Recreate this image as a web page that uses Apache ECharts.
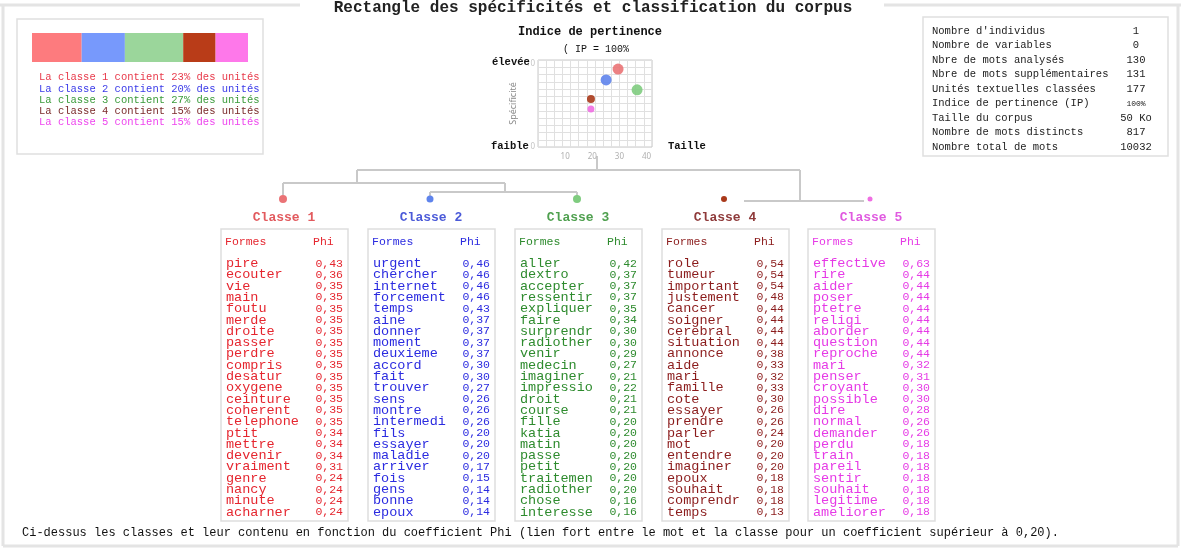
<!DOCTYPE html>
<html><head><meta charset="utf-8">
<script src="https://cdn.jsdelivr.net/npm/echarts@6/dist/echarts.min.js"></script>
<style>html,body{margin:0;padding:0;background:#fff}#c{width:1181px;height:550px}</style>
</head><body><div id="c"></div><script>
// ---------- data ----------
const classNames = ['Classe 1','Classe 2','Classe 3','Classe 4','Classe 5'];
const classShares = [23, 20, 27, 15, 15];
const scatterTaille = [29.5, 25.1, 36.5, 19.5, 19.5];
const scatterSpec = [9.4, 8.1, 6.9, 5.8, 4.6];
const xTickLabels = [10, 20, 30, 40];
const yTickLabels = [0, 10];

const words1 = ['pire','ecouter','vie','main','foutu','merde','droite','passer','perdre','compris','desatur','oxygene','ceinture','coherent','telephone','ptit','mettre','devenir','vraiment','genre','nancy','minute','acharner'];
const phi1 = ['0,43','0,36','0,35','0,35','0,35','0,35','0,35','0,35','0,35','0,35','0,35','0,35','0,35','0,35','0,35','0,34','0,34','0,34','0,31','0,24','0,24','0,24','0,24'];
const words2 = ['urgent','chercher','internet','forcement','temps','aine','donner','moment','deuxieme','accord','fait','trouver','sens','montre','intermedi','fils','essayer','maladie','arriver','fois','gens','bonne','epoux'];
const phi2 = ['0,46','0,46','0,46','0,46','0,43','0,37','0,37','0,37','0,37','0,30','0,30','0,27','0,26','0,26','0,26','0,20','0,20','0,20','0,17','0,15','0,14','0,14','0,14'];
const words3 = ['aller','dextro','accepter','ressentir','expliquer','faire','surprendr','radiother','venir','medecin','imaginer','impressio','droit','course','fille','katia','matin','passe','petit','traitemen','radiother','chose','interesse'];
const phi3 = ['0,42','0,37','0,37','0,37','0,35','0,34','0,30','0,30','0,29','0,27','0,21','0,22','0,21','0,21','0,20','0,20','0,20','0,20','0,20','0,20','0,20','0,16','0,16'];
const words4 = ['role','tumeur','important','justement','cancer','soigner','cerebral','situation','annonce','aide','mari','famille','cote','essayer','prendre','parler','mot','entendre','imaginer','epoux','souhait','comprendr','temps'];
const phi4 = ['0,54','0,54','0,54','0,48','0,44','0,44','0,44','0,44','0,38','0,33','0,32','0,33','0,30','0,26','0,26','0,24','0,20','0,20','0,20','0,18','0,18','0,18','0,13'];
const words5 = ['effective','rire','aider','poser','ptetre','religi','aborder','question','reproche','mari','penser','croyant','possible','dire','normal','demander','perdu','train','pareil','sentir','souhait','legitime','ameliorer'];
const phi5 = ['0,63','0,44','0,44','0,44','0,44','0,44','0,44','0,44','0,44','0,32','0,31','0,30','0,30','0,28','0,26','0,26','0,18','0,18','0,18','0,18','0,18','0,18','0,18'];

const statLabels = ["Nombre d'individus","Nombre de variables","Nbre de mots analysés","Nbre de mots supplémentaires","Unités textuelles classées","Indice de pertinence (IP)","Taille du corpus","Nombre de mots distincts","Nombre total de mots"];
const statValues = ['1','0','130','131','177','100%','50 Ko','817','10032'];

// ---------- styles ----------
const MONO = '"Liberation Mono","Courier New",monospace';
const barColors = ['#fd7b7e','#7799fc','#9bd69b','#b93c18','#fe78ea'];
const dotColors = ['#ea7376','#5f84ec','#7fcc7f','#a9391a','#ef6ee2'];
const dotSizes = [11, 11, 11, 8, 7];
const treeDotSizes = [8, 7, 8, 6, 5];
const textColors = ['#e5262f','#2b2be0','#2e8b2e','#8b1c1c','#e63ae6'];
const titleColors = ['#e25a5e','#4b5ad8','#4fa04f','#8f3b3b','#e05ae0'];
const legendColors = ['#e8394a','#3a3ae8','#3a9a3a','#7a2a2a','#ee44ee'];

const allWords = [words1, words2, words3, words4, words5];
const allPhi = [phi1, phi2, phi3, phi4, phi5];

const g = [];
function txt(x, y, text, o) {
  o = o || {};
  g.push({type:'text', x:x, y:y, silent:true, z:10, style:{
    text:text, fill:o.fill || '#000', fontFamily:MONO, fontSize:o.size || 11,
    fontWeight:o.weight || 'normal', align:o.align || 'left', textAlign:o.align || 'left',
    verticalAlign:'middle', textVerticalAlign:'middle'}});
}
function line(x1, y1, x2, y2, stroke, lw) {
  g.push({type:'line', silent:true, shape:{x1:x1,y1:y1,x2:x2,y2:y2}, style:{stroke:stroke, lineWidth:lw}});
}
function rect(x, y, w, h, stroke, lw) {
  g.push({type:'rect', silent:true, shape:{x:x,y:y,width:w,height:h}, style:{fill:'#fff', stroke:stroke, lineWidth:lw}, z:1});
}

// outer frame
const FR = '#e4e4e4';
line(0, 5, 300, 5, FR, 3);
line(884, 5, 1181, 5, FR, 3);
line(3, 5, 3, 546, FR, 3);
line(3, 546, 1178, 546, FR, 3);
line(1178, 5, 1178, 546, FR, 3);
txt(593, 8, 'Rectangle des spécificités et classification du corpus', {size:16, weight:'bold', align:'center', fill:'#222'});

// legend box
rect(17, 19, 246, 135, '#e0e0e0', 1.5);
classShares.forEach(function(s, i) {
  txt(39, 77.7 + i * 11.2, 'La ' + classNames[i].toLowerCase() + ' contient ' + s + '% des unités', {size:10.5, fill:legendColors[i]});
});

// stats box
rect(923, 17, 245, 139, '#e0e0e0', 1.5);
line(1095, 17, 1095, 156, '#e8e8e8', 1);
statLabels.forEach(function(l, i) {
  const y = 31 + i * 14.5;
  txt(932, y, l, {size:10.5, fill:'#222'});
  txt(1136, y, statValues[i], {size: statValues[i] === '100%' ? 8 : 10.5, fill:'#222', align:'center'});
});

// scatter labels
txt(590, 32, 'Indice de pertinence', {size:12, weight:'bold', align:'center', fill:'#111'});
txt(596, 49, '( IP = 100%', {size:10, align:'center', fill:'#111'});
txt(492, 62, 'élevée', {size:10.5, weight:'bold', fill:'#111'});
txt(491, 146, 'faible', {size:10.5, weight:'bold', fill:'#111'});
txt(668, 146, 'Taille', {size:10.5, weight:'bold', fill:'#111'});

// dendrogram
const TL = '#c9c9c9', TW = 2;
const tableLeft = [221, 368, 515, 662, 808];
const centers = tableLeft.map(function(l) { return l + 62; });
line(597, 156, 597, 170, TL, TW);
line(357, 170, 800, 170, TL, TW);
line(357, 170, 357, 183, TL, TW);
line(283, 183, 505, 183, TL, TW);
line(283, 183, 283, 195, TL, TW);
line(505, 183, 505, 192, TL, TW);
line(430, 192, 577, 192, TL, TW);
line(430, 192, 430, 196, TL, TW);
line(577, 192, 577, 196, TL, TW);
line(800, 170, 800, 201, TL, TW);
line(744, 201, 864, 201, TL, TW);
centers.forEach(function(cx, i) {
  g.push({type:'circle', silent:true, z:5, shape:{cx:cx, cy:199, r:treeDotSizes[i] / 2}, style:{fill:dotColors[i]}});
});

// tables
allWords.forEach(function(ws, k) {
  const L = tableLeft[k], W = 127, T = 229, H = 292, D = L + 83;
  txt(L + 63, 218, classNames[k], {size:13, weight:'bold', align:'center', fill:titleColors[k]});
  rect(L, T, W, H, '#dedede', 1.5);
  line(L, 255, L + W, 255, '#e2e2e2', 1.5);
  line(D, T, D, T + H, '#e2e2e2', 1.5);
  txt(L + 4, 242, 'Formes', {size:11.5, fill:textColors[k]});
  txt(D + 9, 242, 'Phi', {size:11.5, fill:textColors[k]});
  ws.forEach(function(w, r) {
    const y = 263.5 + r * 11.3;
    txt(L + 5, y, w, {size:13.5, fill:textColors[k]});
    txt(L + 122, y, allPhi[k][r], {size:11.5, fill:textColors[k], align:'right'});
  });
});

txt(22, 533, 'Ci-dessus les classes et leur contenu en fonction du coefficient Phi (lien fort entre le mot et la classe pour un coefficient supérieur à 0,20).', {size:12, fill:'#111'});

// ---------- chart ----------
const chart = echarts.init(document.getElementById('c'), null, {renderer:'canvas'});
const barSeries = classShares.map(function(s, i) {
  return {type:'bar', xAxisIndex:1, yAxisIndex:1, stack:'share', data:[s], barWidth:29,
    itemStyle:{color:barColors[i]}, silent:true, animation:false};
});
chart.setOption({
  animation:false,
  grid:[
    {left:538, top:60, width:114, height:87, show:true, borderColor:'#c8c8c8', borderWidth:1, backgroundColor:'transparent'},
    {left:32, top:33, width:216, height:29}
  ],
  xAxis:[
    {gridIndex:0, type:'value', min:0, max:42, interval:3, z:2,
      axisLine:{show:false}, axisTick:{show:false},
      splitLine:{show:true, lineStyle:{color:'#e0e0e0', width:1}},
      axisLabel:{customValues:xTickLabels, color:'#b0b0b0', fontSize:8, margin:6, fontFamily:'Noto Sans'}},
    {gridIndex:1, type:'value', min:0, max:100, show:false}
  ],
  yAxis:[
    {gridIndex:0, type:'value', min:0, max:10.5, interval:0.875, z:2,
      axisLine:{show:false}, axisTick:{show:false},
      splitLine:{show:true, lineStyle:{color:'#e0e0e0', width:1}},
      axisLabel:{customValues:yTickLabels, color:'#c4c4c4', fontSize:8, margin:3, fontFamily:'Noto Sans'},
      name:'Spécificité', nameLocation:'middle', nameGap:20, nameRotate:90,
      nameTextStyle:{color:'#8a8a8a', fontSize:9, fontFamily:'Noto Sans'}},
    {gridIndex:1, type:'category', data:['parts'], show:false}
  ],
  series:[{
    type:'scatter', xAxisIndex:0, yAxisIndex:0, silent:true, z:5,
    data: scatterTaille.map(function(x, i) {
      return {value:[x, scatterSpec[i]], symbolSize:dotSizes[i], itemStyle:{color:dotColors[i], opacity:0.9}};
    })
  }].concat(barSeries),
  graphic: g
});
</script></body></html>
